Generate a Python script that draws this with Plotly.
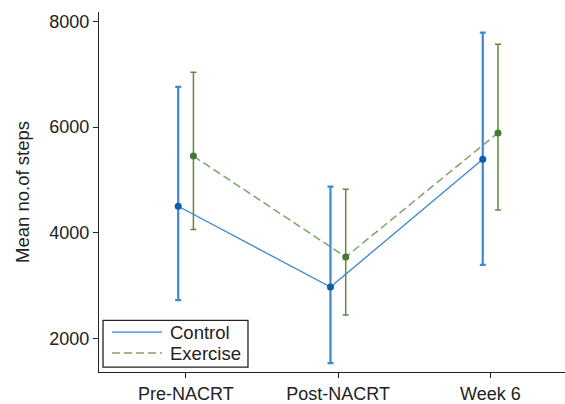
import plotly.graph_objects as go

categories = ["Pre-NACRT", "Post-NACRT", "Week 6"]
control_mean = [4500, 2970, 5390]
control_upper = [6760, 4870, 7790]
control_lower = [2720, 1530, 3390]
exercise_mean = [5450, 3540, 5890]
exercise_upper = [7040, 4820, 7570]
exercise_lower = [4060, 2440, 4430]
series_names = ["Control", "Exercise"]

offset = 0.05
base = [1, 2, 3]

fig = go.Figure()

def add(name, mean, up, lo, xoff, line_color, marker_color, err_color, dash, lw, ew):
    xs = [b + xoff for b in base]
    fig.add_trace(go.Scatter(
        x=xs, y=mean, name=name, mode="lines+markers", showlegend=False,
        line=dict(color=line_color, width=lw, dash=dash),
        marker=dict(color=marker_color, size=7),
        error_y=dict(type="data", symmetric=False,
                     array=[u - m for u, m in zip(up, mean)],
                     arrayminus=[m - l for m, l in zip(mean, lo)],
                     color=err_color, thickness=ew, width=3),
    ))

styles = [
    dict(line_color="#3a86cf", marker_color="#0b5cad", err_color="#3a8ad3", dash="solid", lw=1.3, ew=2.2),
    dict(line_color="#7ea468", marker_color="#46782e", err_color="#5a8a40", dash="8px,4px", lw=1.5, ew=1.5),
]
add(series_names[0], control_mean, control_upper, control_lower, -offset, **styles[0])
add(series_names[1], exercise_mean, exercise_upper, exercise_lower, offset, **styles[1])

# manual legend box (inside plot, bottom-left)
fig.add_shape(type="rect", xref="paper", yref="paper", x0=0.0086, x1=0.3197, y0=0.0138, y1=0.1436,
              line=dict(color="#222", width=1.3), fillcolor="white", layer="above")
for i, (nm, st, yy) in enumerate(zip(series_names, styles, [0.1105, 0.0525])):
    fig.add_shape(type="line", xref="paper", yref="paper", x0=0.0279, x1=0.1352, y0=yy, y1=yy,
                  line=dict(color=st["line_color"], width=st["lw"], dash=st["dash"]), layer="above")
    fig.add_annotation(xref="paper", yref="paper", x=0.148, y=yy, text=nm, showarrow=False,
                       xanchor="left", yanchor="middle", font=dict(size=18.5, color="#222"))

fig.update_layout(
    width=565, height=404,
    margin=dict(l=99, r=0, t=12, b=30),
    plot_bgcolor="white", paper_bgcolor="white",
    font=dict(family="Liberation Sans, Arial, sans-serif", color="#222"),
    showlegend=False,
)
fig.update_xaxes(
    range=[0.43, 3.49], tickvals=base, ticktext=categories,
    showgrid=False, zeroline=False, showline=True, linecolor="#222", linewidth=1.3,
    ticks="outside", ticklen=5, tickcolor="#222", tickfont=dict(size=18),
)
fig.update_yaxes(
    range=[1360, 8180], tickvals=[2000, 4000, 6000, 8000],
    showgrid=False, zeroline=False, showline=True, linecolor="#222", linewidth=1.3,
    ticks="outside", ticklen=5, tickcolor="#222", tickfont=dict(size=18),
    title=dict(text="Mean no.of steps", font=dict(size=18.5), standoff=14),
)

fig.write_html("out.html")
